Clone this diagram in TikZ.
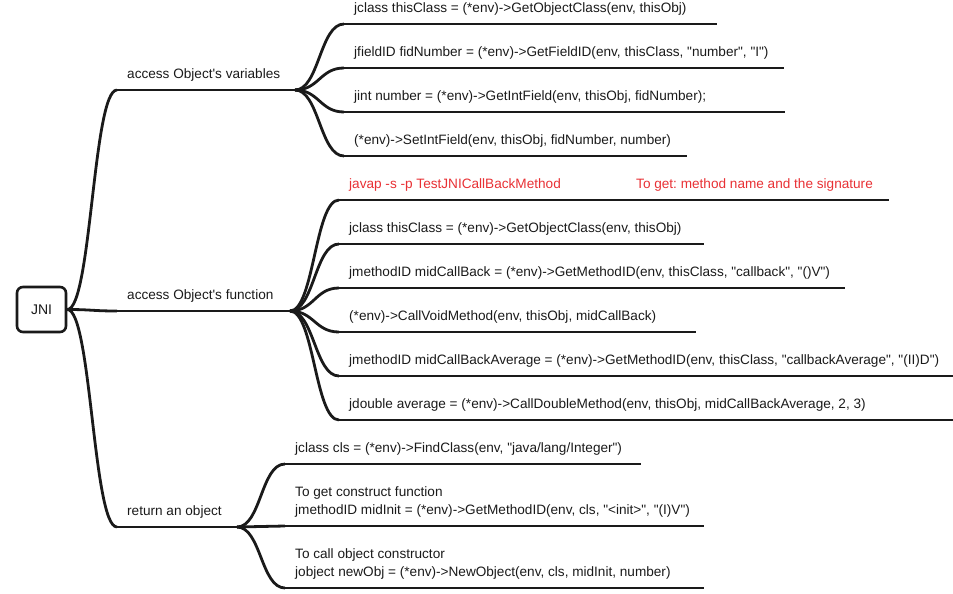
\documentclass[tikz,border=0pt]{standalone}
\usepackage{fontspec}
\setmainfont{Liberation Sans}[Ligatures=TeXOff]
\frenchspacing
\definecolor{notered}{RGB}{232,48,52}
\definecolor{ink}{RGB}{26,26,26}
\tikzset{
  line/.style={draw=ink, line width=2.8pt},
  branch/.style={to path={.. controls +(24,0) and +(-24,0) .. (\tikztotarget)}},
  leaf/.style={anchor=south west, inner xsep=10pt, inner ysep=11pt, text depth=0pt,
    align=left, text=ink, font=\fontsize{13.6}{18}\selectfont},
  root/.style={draw=ink, line width=2.6pt, rounded corners=6pt, minimum width=49pt,
    minimum height=45pt, text=ink, font=\fontsize{14}{18}\selectfont},
}
\begin{document}
\begin{tikzpicture}[x=1pt, y=-1pt]
      \useasboundingbox (0,0) rectangle (953,594);

      \node[root] (jni) at (41.5,309.5) {JNI};

      % main topics
      \node[leaf] (var) at (117,90) {access Object's variables};
      \node[leaf] (func) at (117,311) {access Object's function};
      \node[leaf] (ret) at (117,527) {return an object};
      \draw[line] (var.south west) -- ++(178,0) coordinate (var-end);
      \draw[line] (func.south west) -- ++(173,0) coordinate (func-end);
      \draw[line] (ret.south west) -- ++(120,0) coordinate (ret-end);
      \draw[line] (jni.east) to[branch] (var.south west);
      \draw[line] (jni.east) to[branch] (func.south west);
      \draw[line] (jni.east) to[branch] (ret.south west);

      % variables
      \node[leaf] (v1) at (344,24) {jclass thisClass = (*env)->GetObjectClass(env, thisObj)};
      \node[leaf] (v2) at (344,68) {jfieldID fidNumber = (*env)->GetFieldID(env, thisClass, "number", "I")};
      \node[leaf] (v3) at (344,112) {jint number = (*env)->GetIntField(env, thisObj, fidNumber);};
      \node[leaf] (v4) at (344,156) {(*env)->SetIntField(env, thisObj, fidNumber, number)};
      \draw[line] (v1.south west) -- ++(373,0);
      \draw[line] (v2.south west) -- ++(440,0);
      \draw[line] (v3.south west) -- ++(441,0);
      \draw[line] (v4.south west) -- ++(343,0);
      \draw[line] (var-end) to[branch] (v1.south west);
      \draw[line] (var-end) to[branch] (v2.south west);
      \draw[line] (var-end) to[branch] (v3.south west);
      \draw[line] (var-end) to[branch] (v4.south west);

      % function
      \node[leaf, text=notered] (f0) at (339,200) {javap -s -p TestJNICallBackMethod};
      \node[leaf, text=notered] (f0note) at (626,200) {To get: method name and the signature};
      \node[leaf] (f1) at (339,244) {jclass thisClass = (*env)->GetObjectClass(env, thisObj)};
      \node[leaf] (f2) at (339,288) {jmethodID midCallBack = (*env)->GetMethodID(env, thisClass, "callback", "()V")};
      \node[leaf] (f3) at (339,332) {(*env)->CallVoidMethod(env, thisObj, midCallBack)};
      \node[leaf] (f4) at (339,376) {jmethodID midCallBackAverage = (*env)->GetMethodID(env, thisClass, "callbackAverage", "(II)D")};
      \node[leaf] (f5) at (339,420) {jdouble average = (*env)->CallDoubleMethod(env, thisObj, midCallBackAverage, 2, 3)};
      \draw[line] (f0.south west) -- ++(550,0);
      \draw[line] (f1.south west) -- ++(365,0);
      \draw[line] (f2.south west) -- ++(506,0);
      \draw[line] (f3.south west) -- ++(357,0);
      \draw[line] (f4.south west) -- ++(614,0);
      \draw[line] (f5.south west) -- ++(614,0);
      \draw[line] (func-end) to[branch] (f0.south west);
      \draw[line] (func-end) to[branch] (f1.south west);
      \draw[line] (func-end) to[branch] (f2.south west);
      \draw[line] (func-end) to[branch] (f3.south west);
      \draw[line] (func-end) to[branch] (f4.south west);
      \draw[line] (func-end) to[branch] (f5.south west);

      % object
      \node[leaf] (r1) at (285,464) {jclass cls = (*env)->FindClass(env, "java/lang/Integer")};
      \node[leaf] (r2) at (285,526) {To get construct function\\jmethodID midInit = (*env)->GetMethodID(env, cls, "<init>", "(I)V")};
      \node[leaf] (r3) at (285,588) {To call object constructor\\jobject newObj = (*env)->NewObject(env, cls, midInit, number)};
      \draw[line] (r1.south west) -- ++(356,0);
      \draw[line] (r2.south west) -- ++(419,0);
      \draw[line] (r3.south west) -- ++(419,0);
      \draw[line] (ret-end) to[branch] (r1.south west);
      \draw[line] (ret-end) to[branch] (r2.south west);
      \draw[line] (ret-end) to[branch] (r3.south west);
    \end{tikzpicture}
\end{document}
